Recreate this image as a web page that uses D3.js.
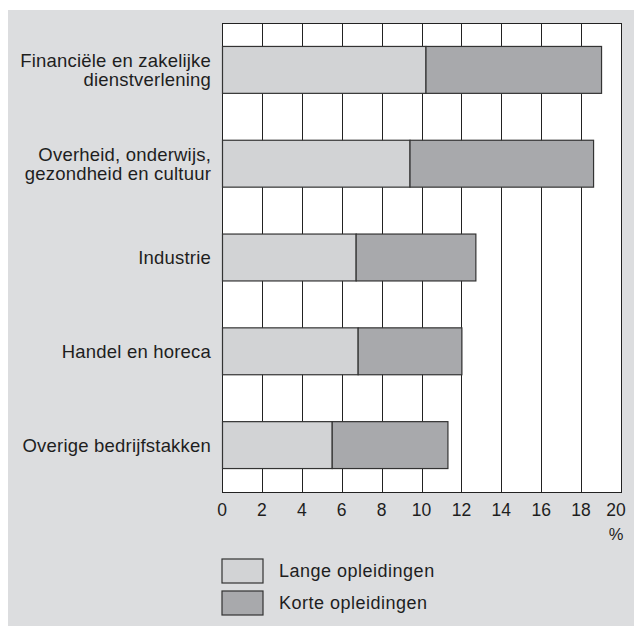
<!DOCTYPE html>
<html>
<head>
<meta charset="utf-8">
<script src="https://cdn.jsdelivr.net/npm/d3@7"></script>
<style>
  body { margin: 0; background: #fff; }
  svg { display: block; }
</style>
</head>
<body>
<div id="chart"></div>
<script>
// sectors, top to bottom
var sectors = [
  ["Financiële en zakelijke", "dienstverlening"],
  ["Overheid, onderwijs,", "gezondheid en cultuur"],
  ["Industrie"],
  ["Handel en horeca"],
  ["Overige bedrijfstakken"]
];
var lange = [10.2, 9.4, 6.7, 6.8, 5.5];
var korte = [8.8, 9.2, 6.0, 5.2, 5.8];
var xTicks = [0, 2, 4, 6, 8, 10, 12, 14, 16, 18, 20];
var seriesNames = ["Lange opleidingen", "Korte opleidingen"];
var seriesColors = ["#d2d3d5", "#a8a9ac"];

var w = 634, h = 626;
var plotL = 222, plotR = 621, plotT = 23, plotB = 492;
var font = "'Liberation Sans', Arial, sans-serif";

var svg = d3.select("#chart").append("svg")
  .attr("width", w)
  .attr("height", h);

// grey panel
svg.append("rect")
  .attr("x", 8).attr("y", 10)
  .attr("width", w - 8).attr("height", h - 10)
  .attr("fill", "#dcdddf");

var x = d3.scaleLinear().domain([0, 20]).range([plotL, plotR]);
var y = d3.scaleBand()
  .domain(d3.range(sectors.length))
  .range([plotT, plotB])
  .paddingInner(0.5)
  .paddingOuter(0.25);

// plot area
svg.append("rect")
  .attr("x", plotL + 0.5).attr("y", plotT + 0.5)
  .attr("width", plotR - plotL).attr("height", plotB - plotT)
  .attr("fill", "#fff")
  .attr("stroke", "#222")
  .attr("stroke-width", 1);

svg.append("g").selectAll("line")
  .data(xTicks)
  .enter()
  .append("line")
  .attr("x1", function(d) { return Math.round(x(d)) + 0.5; })
  .attr("x2", function(d) { return Math.round(x(d)) + 0.5; })
  .attr("y1", plotT)
  .attr("y2", plotB)
  .attr("stroke", "#222")
  .attr("stroke-width", 1);

// stacked bars
var rows = sectors.map(function(s, i) {
  return { i: i, vals: [lange[i], korte[i]] };
});

rows.forEach(function(r) {
  var x0 = 0;
  r.vals.forEach(function(v, k) {
    svg.append("rect")
      .attr("x", x(x0) + 0.5)
      .attr("y", y(r.i))
      .attr("width", x(x0 + v) - x(x0))
      .attr("height", y.bandwidth())
      .attr("fill", seriesColors[k])
      .attr("stroke", "#333")
      .attr("stroke-width", 1.2);
    x0 += v;
  });
});

// category labels
var lab = svg.append("g").selectAll("text")
  .data(sectors)
  .enter()
  .append("text")
  .attr("text-anchor", "end")
  .attr("font-family", font)
  .attr("font-size", 18.5)
  .attr("letter-spacing", 0.2)
  .attr("fill", "#1e1e1e")
  .attr("transform", function(d, i) {
    return "translate(" + (plotL - 11) + "," + (y(i) + y.bandwidth() / 2) + ")";
  });

lab.each(function(d) {
  var t = d3.select(this);
  var n = d.length;
  d.forEach(function(line, j) {
    t.append("tspan")
      .attr("x", 0)
      .attr("y", (j - (n - 1) / 2) * 19)
      .attr("dy", "0.35em")
      .text(line);
  });
});

// x axis labels (last one pulled in a little, as in the original)
svg.append("g").selectAll("text")
  .data(xTicks)
  .enter()
  .append("text")
  .attr("x", function(d, i) { return x(d) - (i == xTicks.length - 1 ? 5 : 0); })
  .attr("y", plotB + 24)
  .attr("text-anchor", "middle")
  .attr("font-family", font)
  .attr("font-size", 17.5)
  .attr("fill", "#1e1e1e")
  .text(function(d) { return d; });

svg.append("text")
  .attr("x", x(20) - 5)
  .attr("y", plotB + 48)
  .attr("text-anchor", "middle")
  .attr("font-family", font)
  .attr("font-size", 16.5)
  .attr("fill", "#1e1e1e")
  .text("%");

// legend
var legend = svg.append("g").selectAll("g")
  .data(seriesNames)
  .enter()
  .append("g")
  .attr("transform", function(d, i) { return "translate(222," + (559 + i * 32) + ")"; });

legend.append("rect")
  .attr("width", 41)
  .attr("height", 24)
  .attr("fill", function(d, i) { return seriesColors[i]; })
  .attr("stroke", "#333")
  .attr("stroke-width", 1.2);

legend.append("text")
  .attr("x", 57)
  .attr("y", 16)
  .attr("dy", "0.1em")
  .attr("font-family", font)
  .attr("font-size", 18)
  .attr("letter-spacing", 0.5)
  .attr("fill", "#1e1e1e")
  .text(function(d) { return d; });
</script>
</body>
</html>
